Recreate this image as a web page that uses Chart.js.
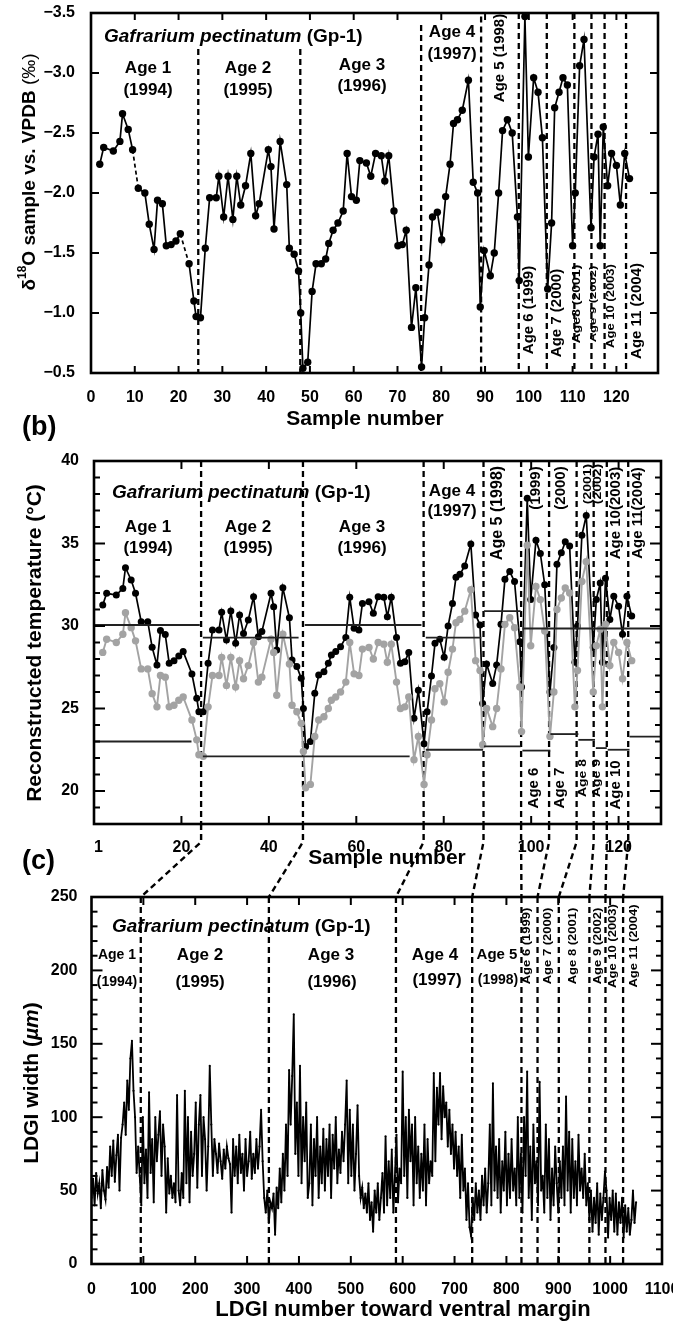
<!DOCTYPE html>
<html><head><meta charset="utf-8">
<script src="https://cdn.jsdelivr.net/npm/chart.js@4.4.1/dist/chart.umd.min.js"></script>
<style>
html,body{margin:0;padding:0;background:#fff;}
#wrap{position:relative;width:673px;height:1323px;overflow:hidden;background:#fff;}
canvas{position:absolute;left:0;top:0;}
</style></head><body><div id="wrap">
<canvas id="ca" width="673" height="1323"></canvas>
<canvas id="cb" width="673" height="1323"></canvas>
<canvas id="cc" width="673" height="1323"></canvas>
</div>
<script>
// ---------------- DATA ----------------
const sampleNo = [2.0,2.9,5.1,6.6,7.2,8.5,9.5,10.8,12.3,13.3,
 14.4,15.2,16.3,17.2,18.3,19.4,20.4,22.4,23.5,24.0,
 25.0,26.1,27.1,28.6,29.2,30.3,31.3,32.4,33.3,34.2,
 35.3,36.5,37.6,38.4,40.5,41.1,41.8,43.2,44.7,45.3,
 46.4,47.4,47.9,48.4,49.5,50.5,51.4,52.6,53.6,54.3,
 55.3,56.4,57.6,58.5,59.5,60.6,61.4,62.9,63.9,65.0,
 66.3,67.1,68.0,69.2,70.1,71.1,72.0,73.2,74.2,75.5,
 76.2,77.2,78.0,79.1,80.1,81.0,82.0,82.8,83.7,84.8,
 86.2,87.3,88.3,88.9,89.8,91.2,92.1,93.1,94.0,95.1,
 96.2,97.4,97.8,99.1,99.9,101.1,102.1,103.1,104.3,105.2,
 105.9,106.9,107.8,108.8,110.0,110.6,111.6,112.6,114.2,114.9,
 115.8,116.3,117.0,118.0,118.9,120.0,120.9,121.9,123.0];

const d18O = [-2.24,-2.38,-2.35,-2.43,-2.66,-2.53,-2.36,-2.04,-2.00,-1.74,
 -1.53,-1.94,-1.91,-1.56,-1.57,-1.60,-1.66,-1.41,-1.10,-0.97,
 -0.96,-1.54,-1.96,-1.96,-2.14,-1.80,-2.14,-1.78,-2.14,-1.90,
 -2.06,-2.33,-1.81,-1.91,-2.36,-2.22,-1.70,-2.43,-2.07,-1.54,
 -1.49,-1.35,-1.00,-0.54,-0.59,-1.18,-1.41,-1.41,-1.45,-1.58,
 -1.69,-1.75,-1.85,-2.33,-1.97,-1.94,-2.27,-2.25,-2.14,-2.33,
 -2.31,-2.10,-2.31,-1.85,-1.56,-1.57,-1.69,-0.88,-1.21,-0.55,
 -0.96,-1.40,-1.80,-1.84,-1.61,-1.97,-2.24,-2.58,-2.61,-2.69,
 -2.94,-2.09,-2.00,-1.05,-1.52,-1.31,-1.50,-2.00,-2.52,-2.61,
 -2.50,-1.80,-1.27,-3.47,-2.30,-2.96,-2.84,-2.46,-1.20,-1.75,
 -2.71,-2.84,-2.96,-2.90,-1.56,-2.00,-3.06,-3.28,-1.71,-2.30,
 -2.49,-1.56,-2.55,-2.06,-2.33,-2.23,-1.90,-2.33,-2.12];

const tempBlack = [31.27,31.98,31.88,32.28,33.53,32.79,31.98,30.26,30.26,28.71,
 27.64,29.72,29.49,27.74,27.9,28.18,28.45,27.09,25.62,24.81,
 24.81,27.74,29.76,29.76,30.83,29.15,30.91,28.95,30.67,29.55,
 30.36,31.78,29.35,29.66,31.98,31.17,28.55,32.32,30.5,27.94,
 27.54,26.83,25.0,22.69,23.0,25.92,27.03,27.23,27.74,28.24,
 28.45,28.75,29.3,31.74,29.86,29.76,31.37,31.47,30.77,31.78,
 31.74,30.56,31.74,29.3,27.74,27.84,28.39,24.41,26.1,22.87,
 24.8,26.97,28.95,29.2,28.1,30.0,31.37,32.95,33.13,33.64,
 34.97,30.67,30.06,25.31,27.7,26.52,27.64,30.1,32.83,33.3,
 32.69,29.05,26.3,37.74,31.6,35.2,34.4,32.5,26.0,28.7,
 33.74,34.44,35.1,34.85,27.8,30.0,35.5,36.7,28.7,31.6,
 32.6,27.8,32.9,30.4,31.8,31.2,29.5,31.8,30.6];

const tempGray = [28.4,29.2,29.0,29.5,30.8,29.9,29.1,27.4,27.4,25.9,
 25.1,27.0,26.9,25.1,25.2,25.5,25.7,24.3,23.1,22.2,
 22.1,25.1,27.0,27.0,28.1,26.4,28.1,26.3,27.9,26.8,
 27.6,29.0,26.6,26.9,29.2,28.4,25.8,29.5,27.7,25.2,
 24.8,24.1,22.4,20.2,20.4,23.3,24.3,24.5,25.0,25.5,
 25.7,26.0,26.6,29.0,27.1,27.0,28.6,28.7,28.0,29.0,
 28.9,27.8,28.9,26.6,25.0,25.1,25.7,21.9,23.3,20.4,
 22.2,24.3,26.2,26.5,25.4,27.2,28.6,30.2,30.4,30.9,
 32.2,27.9,27.3,22.8,25.0,23.9,25.0,27.4,30.1,30.5,
 29.9,26.3,23.6,34.9,28.8,32.4,31.6,29.7,23.3,26.0,
 31.0,31.7,32.3,32.0,25.1,27.3,32.7,33.9,26.0,28.8,
 29.8,25.1,30.1,27.6,29.0,28.4,26.8,29.0,27.9];

// horizontal temperature levels per age (panel b)
const bandStart = [0, 0, 24.9, 24.9, 48.2, 47.6, 75.9, 75.9, 89.2, 89.2, 98.0, 98.0, 104.4, 110.8, 114.8, 117.5, 122.5];
const bandEnd   = [24.2, 22.3, 46.8, 47.6, 74.9, 72.2, 88.6, 89.0, 97.6, 97.6, 130.0, 104.4, 110.8, 114.6, 117.3, 122.5, 130.0];
const bandTemp  = [30.06, 23.0, 29.3, 22.1, 30.06, 22.1, 29.3, 22.5, 30.9, 22.7, 29.85, 22.45, 23.45, 23.1, 22.6, 22.5, 23.3];

// age boundaries
const ageBoundSample = [24.5, 47.8, 75.4, 89.1, 97.7, 104.1, 110.4, 114.3, 117.3, 122.2];
const ageBoundLDGI   = [95, 342, 587, 734, 829, 860, 901, 960, 991, 1025];

// LDGI widths (panel c), every 3rd increment starting at 0
const ldgiStart = 0, ldgiStep = 3;
const ldgiWidth = [
 45,58,40,62,48,55,38,64,50,44,
 66,52,80,60,84,56,74,88,50,86,
 95,110,88,125,105,140,152,118,100,62,
 80,60,40,100,55,78,45,117,62,85,
 42,100,70,88,104,60,95,80,35,72,
 48,60,45,55,42,115,50,40,62,45,
 118,55,100,42,90,60,75,110,52,95,
 115,60,100,85,50,80,135,95,60,85,
 75,62,82,70,58,78,65,80,72,68,
 35,85,60,80,55,88,62,75,50,85,
 60,70,90,58,75,62,85,65,80,105,
 70,45,35,50,28,42,38,48,20,52,
 38,65,42,75,50,95,60,132,95,128,
 170,75,110,60,135,55,100,70,110,45,
 55,95,40,85,60,100,45,80,55,92,
 50,85,60,95,45,88,65,100,55,78,
 62,90,70,95,125,55,105,60,95,50,
 75,108,60,45,52,38,48,35,55,30,
 42,22,50,35,55,30,45,62,35,87,
 40,70,45,78,35,60,88,42,65,55,
 131,60,100,45,105,70,95,40,100,55,
 80,45,75,50,95,40,85,55,70,60,
 130,70,120,95,130,85,121,100,110,80,
 105,75,95,65,90,60,80,45,88,50,
 65,30,55,25,19,45,30,55,35,50,
 30,60,40,65,35,55,95,40,123,50,
 80,45,85,35,70,50,90,40,75,45,
 85,50,65,40,100,45,75,35,100,60,
 131,45,80,30,95,55,70,40,124,50,
 60,35,95,45,85,30,65,40,80,55,
 35,70,45,80,40,114,50,90,35,85,
 45,70,40,88,50,65,45,75,40,55,
 30,50,22,45,28,55,20,48,30,45,
 63,50,18,45,30,50,22,48,20,42,
 28,45,18,40,22,38,20,30,50,28,
 42];

// tick labels
const xTicksA = [0,10,20,30,40,50,60,70,80,90,100,110,120];
const yTicksA = [-3.5,-3.0,-2.5,-2.0,-1.5,-1.0,-0.5];
const xTicksB = [1,20,40,60,80,100,120];
const yTicksB = [20,25,30,35,40];
const xTicksC = [0,100,200,300,400,500,600,700,800,900,1000,1100];
const yTicksC = [0,50,100,150,200,250];

// ---------------- STYLE / LAYOUT ----------------
const FF = '"Liberation Sans", Arial, Helvetica, sans-serif';
const B = s => `bold ${s}px ${FF}`;
const BI = s => `italic bold ${s}px ${FF}`;
const R = s => `${s}px ${FF}`;
const dashedSegA = [6, 16];

function drawLabel(ctx, L) {
  const runs = L.runs || [{t: L.t, f: L.f}];
  ctx.save();
  ctx.translate(L.x, L.y);
  if (L.rot) ctx.rotate(L.rot * Math.PI / 180);
  if (L.sy) ctx.scale(1, L.sy);
  let w = 0;
  runs.forEach(r => { ctx.font = r.f; r.w = ctx.measureText(r.t).width; w += r.w; });
  let cx = L.align === 'left' ? 0 : -w / 2;
  ctx.fillStyle = '#000'; ctx.textBaseline = 'middle'; ctx.textAlign = 'left';
  runs.forEach(r => { ctx.font = r.f; ctx.fillText(r.t, cx, r.dy || 0); cx += r.w; });
  ctx.restore();
}
function seg(ctx, x1, y1, x2, y2) { ctx.beginPath(); ctx.moveTo(x1, y1); ctx.lineTo(x2, y2); ctx.stroke(); }

const deco = {
  id: 'deco',
  beforeDatasetsDraw(chart, args, o) {
    const ctx = chart.ctx, xs = chart.scales.x, ys = chart.scales.y, a = chart.chartArea;
    if (o.vlines) {
      ctx.save(); ctx.strokeStyle = '#000'; ctx.lineWidth = 2.3; ctx.setLineDash([6, 4]);
      o.vlines.forEach((v, i) => {
        const px = xs.getPixelForValue(v);
        const top = o.vlineTop ? ys.getPixelForValue(o.vlineTop[i]) : a.top;
        seg(ctx, px, top, px, a.bottom);
      });
      ctx.restore();
    }
  },
  afterDraw(chart, args, o) {
    const ctx = chart.ctx, xs = chart.scales.x, ys = chart.scales.y, a = chart.chartArea;
    ctx.save();
    ctx.strokeStyle = '#000'; ctx.lineWidth = 2; ctx.setLineDash([]);
    (o.xTicks || []).forEach(v => { const p = xs.getPixelForValue(v); seg(ctx, p, a.bottom, p, a.bottom - o.xLen); seg(ctx, p, a.top, p, a.top + o.xLen); });
    (o.yMajor || []).forEach(v => { const p = ys.getPixelForValue(v); seg(ctx, a.left, p, a.left + o.yLen, p); seg(ctx, a.right, p, a.right - o.yLen, p); });
    (o.yMinor || []).forEach(v => { const p = ys.getPixelForValue(v); seg(ctx, a.left, p, a.left + o.yMinLen, p); seg(ctx, a.right, p, a.right - o.yMinLen, p); });
    ctx.lineWidth = 2.6;
    ctx.strokeRect(a.left, a.top, a.right - a.left, a.bottom - a.top);
    if (o.link) {
      const cb = o.link();
      const bx = cb.scales.x, bb = cb.chartArea.bottom;
      ctx.lineWidth = 2.4; ctx.setLineDash([6, 4]);
      ageBoundSample.forEach((s, i) => {
        const x1 = bx.getPixelForValue(s), x2 = xs.getPixelForValue(ageBoundLDGI[i]);
        ctx.beginPath(); ctx.moveTo(x1, bb); ctx.lineTo(x1, 842); ctx.lineTo(x2, a.top); ctx.stroke();
      });
      ctx.setLineDash([]);
    }
    ctx.restore();
    (o.texts || []).forEach(L => drawLabel(ctx, L));
  }
};
Chart.register(deco);

function makeOptions(area, xc, yc, plug) {
  const xH = 40;
  return {
    responsive: false, animation: false, devicePixelRatio: 1,
    layout: { padding: { left: 0, top: area.t, right: 673 - area.r, bottom: 1323 - area.b - xH } },
    plugins: { legend: { display: false }, tooltip: { enabled: false }, deco: plug },
    scales: {
      x: { type: 'linear', min: xc.min, max: xc.max, grid: { display: false }, border: { display: false },
        ticks: { font: { family: FF, size: 16, weight: 'bold' }, color: '#000', padding: xc.pad, maxRotation: 0, autoSkip: false,
          callback: v => String(v) },
        afterBuildTicks: s => { s.ticks = xc.ticks.map(v => ({ value: v })); },
        afterFit: s => { s.height = xH; s.paddingLeft = 0; s.paddingRight = 0; } },
      y: { type: 'linear', min: yc.min, max: yc.max, reverse: !!yc.reverse, grid: { display: false }, border: { display: false },
        ticks: { font: { family: FF, size: 16, weight: 'bold' }, color: '#000', padding: yc.pad, autoSkip: false, callback: yc.fmt || (v => String(v)) },
        afterBuildTicks: s => { s.ticks = yc.ticks.map(v => ({ value: v })); },
        afterFit: s => { s.width = area.l; s.paddingTop = 0; s.paddingBottom = 0; } }
    }
  };
}

const title = (x, y) => ({ x, y, align: 'left', runs: [{ t: 'Gafrarium pectinatum', f: BI(19) }, { t: ' (Gp-1)', f: B(19) }] });

// ---------- panel a ----------
const labelsA = [
  title(104, 37),
  { x: 148, y: 68, t: 'Age 1', f: B(17) }, { x: 148, y: 90, t: '(1994)', f: B(17) },
  { x: 248, y: 68, t: 'Age 2', f: B(17) }, { x: 248, y: 90, t: '(1995)', f: B(17) },
  { x: 362, y: 65, t: 'Age 3', f: B(17) }, { x: 362, y: 86, t: '(1996)', f: B(17) },
  { x: 452, y: 32, t: 'Age 4', f: B(17) }, { x: 452, y: 54, t: '(1997)', f: B(17) },
  { x: 500, y: 58, t: 'Age 5 (1998)', f: B(15), rot: -90 },
  { x: 529, y: 310, t: 'Age 6 (1999)', f: B(15), rot: -90 },
  { x: 557, y: 313, t: 'Age 7 (2000)', f: B(15), rot: -90 },
  { x: 577, y: 304, t: 'Age8 (2001)', f: B(14), rot: -90, sy: 0.72 },
  { x: 593, y: 304, t: 'Age 9 (2002)', f: B(13), rot: -90, sy: 0.72 },
  { x: 611, y: 306, t: 'Age 10 (2003)', f: B(13), rot: -90, sy: 0.8 },
  { x: 637, y: 311, t: 'Age 11 (2004)', f: B(15), rot: -90 },
  { x: 30, y: 172, rot: -90, runs: [{ t: 'δ', f: B(19) }, { t: '18', f: B(12), dy: -7 }, { t: 'O sample vs. VPDB ', f: B(19) }, { t: '(‰)', f: R(19) }] },
  { x: 365, y: 419, t: 'Sample number', f: B(21) },
  { x: 22, y: 428, t: '(b)', f: B(27), align: 'left' }
];
const areaA = { l: 91, t: 13, r: 658, b: 373 };
const chartA = new Chart(document.getElementById('ca'), {
  type: 'scatter',
  data: { datasets: [{
    data: sampleNo.map((x, i) => ({ x, y: d18O[i] })), showLine: true,
    borderColor: '#000', backgroundColor: '#000', borderWidth: 1.7, pointRadius: 3.7, pointBorderWidth: 0,
    segment: { borderDash: c => dashedSegA.includes(c.p0DataIndex) ? [4, 3] : undefined }
  }] },
  options: makeOptions(areaA,
    { min: 0, max: 129.5, ticks: xTicksA, pad: 7 },
    { min: -3.5, max: -0.5, reverse: true, ticks: yTicksA, pad: 8, fmt: v => (v < 0 ? '\u2212' : '') + Math.abs(v).toFixed(1) },
    { vlines: ageBoundSample, vlineTop: [-3.2, -3.2, -3.4, -3.47, -3.5, -3.5, -3.5, -3.5, -3.5, -3.5],
      xTicks: xTicksA.slice(1), xLen: 7, yMajor: yTicksA.slice(1, -1), yLen: 8, texts: labelsA })
});

// ---------- panel b ----------
const minorB = []; for (let v = 19; v < 40; v++) if (v % 5) minorB.push(v);
const labelsB = [
  title(112, 493),
  { x: 148, y: 527, t: 'Age 1', f: B(17) }, { x: 148, y: 548, t: '(1994)', f: B(17) },
  { x: 248, y: 527, t: 'Age 2', f: B(17) }, { x: 248, y: 548, t: '(1995)', f: B(17) },
  { x: 362, y: 527, t: 'Age 3', f: B(17) }, { x: 362, y: 548, t: '(1996)', f: B(17) },
  { x: 452, y: 491, t: 'Age 4', f: B(17) }, { x: 452, y: 511, t: '(1997)', f: B(17) },
  { x: 498, y: 513, t: 'Age 5 (1998)', f: B(16), rot: -90 },
  { x: 536, y: 488, t: '(1999)', f: B(15), rot: -90 },
  { x: 561, y: 488, t: '(2000)', f: B(15), rot: -90 },
  { x: 588, y: 484, t: '(2001)', f: B(14), rot: -90, sy: 0.72 },
  { x: 598, y: 484, t: '(2002)', f: B(14), rot: -90, sy: 0.72 },
  { x: 616, y: 513, t: 'Age 10(2003)', f: B(15), rot: -90 },
  { x: 638, y: 513, t: 'Age 11(2004)', f: B(15), rot: -90 },
  { x: 534, y: 788, t: 'Age 6', f: B(15), rot: -90 },
  { x: 560, y: 788, t: 'Age 7', f: B(15), rot: -90 },
  { x: 583, y: 778, t: 'Age 8', f: B(14), rot: -90, sy: 0.75 },
  { x: 597, y: 778, t: 'Age 9', f: B(14), rot: -90, sy: 0.75 },
  { x: 616, y: 785, t: 'Age 10', f: B(15), rot: -90 },
  { x: 35, y: 643, t: 'Reconstructed temperature (°C)', f: B(21), rot: -90 },
  { x: 387, y: 858, t: 'Sample number', f: B(21) },
  { x: 22, y: 862, t: '(c)', f: B(27), align: 'left' }
];
const areaB = { l: 94, t: 461, r: 661, b: 824 };
const bandSets = bandTemp.map((t, i) => ({
  data: [{ x: bandStart[i], y: t }, { x: bandEnd[i], y: t }], showLine: true,
  borderColor: '#222', borderWidth: 1.8, pointRadius: 0
}));
const chartB = new Chart(document.getElementById('cb'), {
  type: 'scatter',
  data: { datasets: [
    ...bandSets,
    { data: sampleNo.map((x, i) => ({ x, y: tempGray[i] })), showLine: true,
      borderColor: '#a3a3a3', backgroundColor: '#a3a3a3', borderWidth: 1.9, pointRadius: 3.7, pointBorderWidth: 0 },
    { data: sampleNo.map((x, i) => ({ x, y: tempBlack[i] })), showLine: true,
      borderColor: '#000', backgroundColor: '#000', borderWidth: 1.7, pointRadius: 3.5, pointBorderWidth: 0 }
  ] },
  options: makeOptions(areaB,
    { min: 0, max: 129.7, ticks: xTicksB, pad: 6 },
    { min: 18, max: 40, ticks: yTicksB, pad: 7 },
    { vlines: ageBoundSample, xTicks: xTicksB.slice(1), xLen: 8, yMajor: yTicksB, yLen: 11, yMinor: minorB, yMinLen: 6, texts: labelsB })
});

// ---------- panel c ----------
const minorC = []; for (let v = 10; v < 250; v += 10) if (v % 50) minorC.push(v);
const labelsC = [
  title(112, 927),
  { x: 117, y: 955, t: 'Age 1', f: B(14) }, { x: 117, y: 982, t: '(1994)', f: B(14) },
  { x: 200, y: 955, t: 'Age 2', f: B(17) }, { x: 200, y: 982, t: '(1995)', f: B(17) },
  { x: 331, y: 955, t: 'Age 3', f: B(17) }, { x: 332, y: 982, t: '(1996)', f: B(17) },
  { x: 435, y: 955, t: 'Age 4', f: B(17) }, { x: 437, y: 980, t: '(1997)', f: B(17) },
  { x: 497, y: 955, t: 'Age 5', f: B(15) }, { x: 498, y: 980, t: '(1998)', f: B(14) },
  { x: 527, y: 946, t: 'Age 6 (1999)', f: B(13), rot: -90, sy: 0.8 },
  { x: 548, y: 946, t: 'Age 7 (2000)', f: B(13), rot: -90, sy: 0.8 },
  { x: 573, y: 946, t: 'Age 8 (2001)', f: B(13), rot: -90, sy: 0.8 },
  { x: 598, y: 946, t: 'Age 9 (2002)', f: B(13), rot: -90, sy: 0.8 },
  { x: 613, y: 946, t: 'Age 10 (2003)', f: B(13), rot: -90, sy: 0.8 },
  { x: 634, y: 946, t: 'Age 11 (2004)', f: B(13), rot: -90, sy: 0.8 },
  { x: 32, y: 1083, rot: -90, runs: [{ t: 'LDGI width (', f: B(21) }, { t: 'µm', f: BI(21) }, { t: ')', f: B(21) }] },
  { x: 403, y: 1310, t: 'LDGI number toward ventral margin', f: B(22) }
];
const areaC = { l: 91.5, t: 897, r: 662, b: 1264 };
const chartC = new Chart(document.getElementById('cc'), {
  type: 'scatter',
  data: { datasets: [{
    data: ldgiWidth.map((v, i) => ({ x: ldgiStart + i * ldgiStep, y: v })), showLine: true,
    borderColor: '#000', backgroundColor: '#000', borderWidth: 1.8, pointRadius: 1.1, pointBorderWidth: 0
  }] },
  options: makeOptions(areaC,
    { min: 0, max: 1100, ticks: xTicksC, pad: 8 },
    { min: 0, max: 250, ticks: yTicksC, pad: 6 },
    { vlines: ageBoundLDGI, xTicks: xTicksC.slice(1, -1), xLen: 8, yMajor: yTicksC, yLen: 11, yMinor: minorC, yMinLen: 6,
      texts: labelsC, link: () => chartB })
});
</script></body></html>
